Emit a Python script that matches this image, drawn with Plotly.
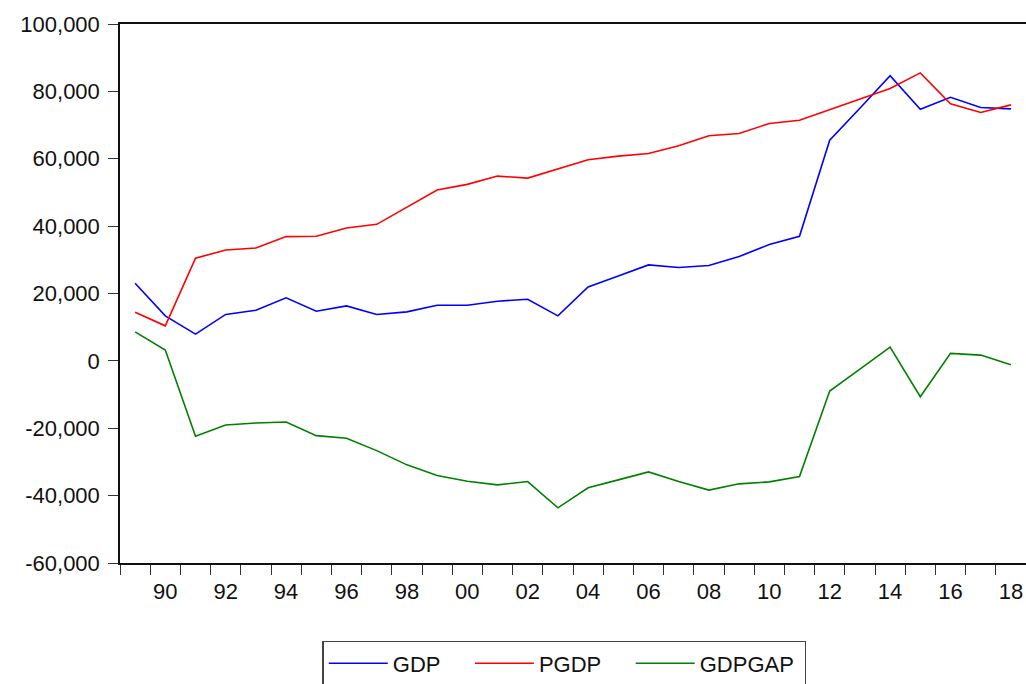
import plotly.graph_objects as go

years = list(range(1989, 2019))
gdp = [23050, 13370, 7940, 13780, 15050, 18700, 14750, 16330, 13780, 14550,
       16530, 16530, 17720, 18310, 13370, 21960, 25220, 28480, 27700, 28300,
       30960, 34520, 36980, 65510, 74990, 84680, 74700, 78250, 75200, 74810]
pgdp = [14460, 10400, 30460, 32920, 33510, 36890, 36980, 39440, 40530, 45660,
        50700, 52390, 54850, 54250, 56920, 59700, 60770, 61570, 63850, 66810,
        67500, 70460, 71440, 74610, 77570, 80830, 85480, 76300, 73720, 76000]
gdpgap = [8620, 3200, -22370, -19020, -18430, -18130, -22190, -22960, -26640, -30870,
          -34040, -35710, -36800, -35820, -43620, -37690, -35320, -32950, -35820, -38370,
          -36500, -35910, -34340, -8950, -2430, 4090, -10640, 2220, 1720, -1160]

series_names = ["GDP", "PGDP", "GDPGAP"]
series_colors = ["#0000FF", "#FF0000", "#008000"]

x_tick_vals = list(range(1990, 2019, 2))
x_tick_text = ["%02d" % (y % 100) for y in x_tick_vals]
y_tick_vals = [-60000, -40000, -20000, 0, 20000, 40000, 60000, 80000, 100000]
y_tick_text = ["-60,000", "-40,000", "-20,000", "0", "20,000", "40,000", "60,000", "80,000", "100,000"]

FONT = "Liberation Sans, Arial, Helvetica, sans-serif"
NB = "\u00a0"
legend_pad = [NB * 4, NB * 4, NB * 1]  # visual spacing between legend entries

fig = go.Figure()
for name, vals, col, pad in zip(series_names, [gdp, pgdp, gdpgap], series_colors, legend_pad):
    fig.add_trace(go.Scatter(x=years, y=vals, mode="lines", name=name + pad,
                             line=dict(color=col, width=1.6)))

fig.update_layout(
    width=1026, height=684,
    margin=dict(l=120, r=0, t=24, b=121, autoexpand=False),
    paper_bgcolor="white", plot_bgcolor="white",
    font=dict(family=FONT, size=22, color="#111111"),
    showlegend=True,
    legend=dict(orientation="h", x=0.4906, xanchor="center", y=-0.145, yanchor="top",
                bordercolor="#444444", borderwidth=1.3, bgcolor="white",
                font=dict(family=FONT, size=22, color="#111111"),
                itemwidth=59, traceorder="normal"),
)

fig.update_xaxes(
    range=[1988.5, 2018.5], showgrid=False, zeroline=False,
    showline=True, linecolor="#111111", linewidth=1.5, mirror=True,
    tickmode="array", tickvals=x_tick_vals, ticktext=x_tick_text,
    ticks="outside", ticklen=8, tickcolor="rgba(0,0,0,0)",
    tickfont=dict(family=FONT, size=22, color="#111111"),
    minor=dict(tickmode="linear", tick0=1988.5, dtick=1, ticks="outside",
               ticklen=10, tickwidth=1.3, tickcolor="#333333", showgrid=False),
)
fig.update_yaxes(
    range=[-60000, 100000], showgrid=False, zeroline=False,
    showline=True, linecolor="#111111", linewidth=1.5,
    tickmode="array", tickvals=y_tick_vals, ticktext=y_tick_text,
    ticks="outside", ticklen=10, tickwidth=1.3, tickcolor="#333333",
    ticklabelstandoff=4,
    tickfont=dict(family=FONT, size=22, color="#111111"),
)

fig.write_html("out.html",
               config={"displayModeBar": False},
               post_script="document.body.style.margin='0';document.body.style.overflow='hidden';")
